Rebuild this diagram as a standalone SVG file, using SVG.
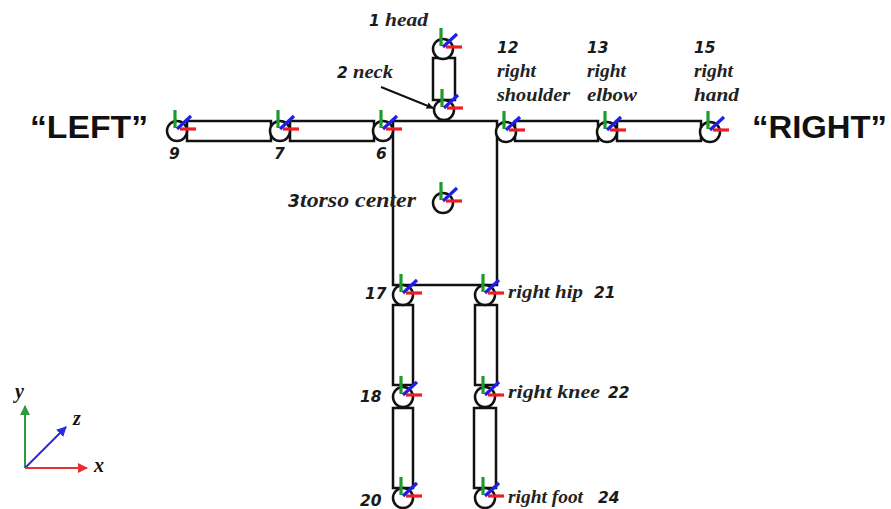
<svg xmlns="http://www.w3.org/2000/svg" xmlns:xlink="http://www.w3.org/1999/xlink" width="891" height="509" viewBox="0 0 891 509">
<style>
.limb{fill:#fff;stroke:#111;stroke-width:2.5}
.jc{fill:#fff;stroke:#111;stroke-width:2.5}
.g{stroke:#1f9a2e;stroke-width:3.2}
.r{stroke:#ee1c24;stroke-width:3.2}
.b{stroke:#1e1ee6;stroke-width:3.2}
.w{font-family:"Liberation Serif",serif;font-weight:bold;font-style:italic;font-size:19px;fill:#222}
.n{font-family:"DejaVu Sans","Liberation Sans",sans-serif;font-weight:bold;font-style:italic;font-size:15.5px;fill:#1a1a1a}
.big{font-family:"Liberation Sans",Arial,sans-serif;font-weight:bold;font-size:31px;fill:#111}
.ax{font-family:"Liberation Serif",serif;font-weight:bold;font-style:italic;font-size:20px;fill:#111}
</style>
<defs>
<g id="axes">
<line class="g" x1="-2" y1="-3" x2="-2" y2="-21"/>
<line class="r" x1="3" y1="-2" x2="19" y2="-2"/>
<line class="b" x1="0" y1="-2" x2="14" y2="-15"/>
</g>
<marker id="ah" viewBox="0 0 10 10" refX="9" refY="5" markerWidth="7" markerHeight="7" orient="auto" markerUnits="userSpaceOnUse">
<path d="M0,0 L10,5 L0,10 z" fill="#111"/>
</marker>
<marker id="agr" viewBox="0 0 10 10" refX="9" refY="5" markerWidth="10" markerHeight="10" orient="auto" markerUnits="userSpaceOnUse"><path d="M0,0 L10,5 L0,10 z" fill="#2e9a3c"/></marker>
<marker id="abl" viewBox="0 0 10 10" refX="9" refY="5" markerWidth="10" markerHeight="10" orient="auto" markerUnits="userSpaceOnUse"><path d="M0,0 L10,5 L0,10 z" fill="#2a2ae0"/></marker>
<marker id="are" viewBox="0 0 10 10" refX="9" refY="5" markerWidth="10" markerHeight="10" orient="auto" markerUnits="userSpaceOnUse"><path d="M0,0 L10,5 L0,10 z" fill="#e83030"/></marker>
</defs>
<rect width="891" height="509" fill="#fff"/>

<g id="connectors">
<rect class="limb" x="433" y="58" width="22" height="42"/>
<rect class="limb" x="393" y="121" width="104" height="164"/>
<rect class="limb" x="187" y="121" width="84" height="20"/>
<rect class="limb" x="290" y="121" width="84" height="20"/>
<rect class="limb" x="515" y="121" width="83" height="20"/>
<rect class="limb" x="617" y="121" width="84" height="20"/>
<rect class="limb" x="393" y="305" width="20" height="80"/>
<rect class="limb" x="475" y="305" width="22" height="80"/>
<rect class="limb" x="393" y="408" width="20" height="80"/>
<rect class="limb" x="474" y="408" width="22" height="80"/>
<line x1="381" y1="87" x2="433" y2="108" stroke="#111" stroke-width="2" marker-end="url(#ah)"/>
</g>

<g id="j1"><circle class="jc" cx="443" cy="49" r="10"/><use xlink:href="#axes" x="443" y="49"/>
<text x="369" y="26"><tspan class="n">1</tspan><tspan class="w" x="385" textLength="43" lengthAdjust="spacingAndGlyphs">head</tspan></text></g>
<g id="j2"><circle class="jc" cx="444" cy="110" r="10"/><use xlink:href="#axes" x="444" y="110"/>
<text x="337" y="78"><tspan class="n">2</tspan><tspan class="w" x="353" textLength="40" lengthAdjust="spacingAndGlyphs">neck</tspan></text></g>
<g id="j3"><circle class="jc" cx="443" cy="203" r="10"/><use xlink:href="#axes" x="443" y="203"/>
<text x="288" y="207"><tspan class="n" style="font-size:17px">3</tspan><tspan class="w" x="300" style="font-size:21px" textLength="116" lengthAdjust="spacingAndGlyphs">torso center</tspan></text></g>
<g id="j6"><circle class="jc" cx="383" cy="131" r="10"/><use xlink:href="#axes" x="383" y="131"/>
<text class="n" x="376" y="159">6</text></g>
<g id="j7"><circle class="jc" cx="280" cy="131" r="10"/><use xlink:href="#axes" x="280" y="131"/>
<text class="n" x="274" y="159">7</text></g>
<g id="j9"><circle class="jc" cx="177" cy="131" r="10"/><use xlink:href="#axes" x="177" y="131"/>
<text class="n" x="169" y="159">9</text></g>
<g id="j12"><circle class="jc" cx="506" cy="132" r="10"/><use xlink:href="#axes" x="506" y="132"/>
<text class="n" x="497" y="53">12</text><text class="w" x="497" y="77" textLength="39" lengthAdjust="spacingAndGlyphs">right</text><text class="w" x="497" y="101" textLength="73" lengthAdjust="spacingAndGlyphs">shoulder</text></g>
<g id="j13"><circle class="jc" cx="607" cy="132" r="10"/><use xlink:href="#axes" x="607" y="132"/>
<text class="n" x="587" y="53">13</text><text class="w" x="587" y="77" textLength="39" lengthAdjust="spacingAndGlyphs">right</text><text class="w" x="587" y="101" textLength="50" lengthAdjust="spacingAndGlyphs">elbow</text></g>
<g id="j15"><circle class="jc" cx="710" cy="132" r="10"/><use xlink:href="#axes" x="710" y="132"/>
<text class="n" x="694" y="53">15</text><text class="w" x="694" y="77" textLength="39" lengthAdjust="spacingAndGlyphs">right</text><text class="w" x="694" y="101" textLength="45" lengthAdjust="spacingAndGlyphs">hand</text></g>
<g id="j17"><circle class="jc" cx="403" cy="295" r="10"/><use xlink:href="#axes" x="403" y="295"/>
<text class="n" x="365" y="299">17</text></g>
<g id="j21"><circle class="jc" cx="485" cy="295" r="10"/><use xlink:href="#axes" x="485" y="295"/>
<text class="w" x="508" y="298" textLength="75" lengthAdjust="spacingAndGlyphs">right hip</text><text class="n" x="594" y="298">21</text></g>
<g id="j18"><circle class="jc" cx="403" cy="397" r="10"/><use xlink:href="#axes" x="403" y="397"/>
<text class="n" x="360" y="402">18</text></g>
<g id="j22"><circle class="jc" cx="485" cy="397" r="10"/><use xlink:href="#axes" x="485" y="397"/>
<text class="w" x="508" y="398" textLength="92" lengthAdjust="spacingAndGlyphs">right knee</text><text class="n" x="608" y="398">22</text></g>
<g id="j20"><circle class="jc" cx="403" cy="498" r="10"/><use xlink:href="#axes" x="403" y="498"/>
<text class="n" x="360" y="506">20</text></g>
<g id="j24"><circle class="jc" cx="485" cy="498" r="10"/><use xlink:href="#axes" x="485" y="498"/>
<text class="w" x="508" y="503" textLength="75" lengthAdjust="spacingAndGlyphs">right foot</text><text class="n" x="598" y="503">24</text></g>

<g id="side-labels">
<text class="big" x="30" y="138" textLength="118" lengthAdjust="spacingAndGlyphs">“LEFT”</text>
<text class="big" x="752" y="138" textLength="135" lengthAdjust="spacingAndGlyphs">“RIGHT”</text>
</g>

<g id="legend">
<line x1="25" y1="468" x2="25" y2="406" stroke="#2e9a3c" stroke-width="2" marker-end="url(#agr)"/>
<line x1="25" y1="468" x2="66" y2="427" stroke="#2a2ae0" stroke-width="2" marker-end="url(#abl)"/>
<line x1="25" y1="468" x2="87" y2="468" stroke="#e83030" stroke-width="2" marker-end="url(#are)"/>
<text class="ax" x="15" y="398">y</text>
<text class="ax" x="73" y="425">z</text>
<text class="ax" x="94" y="472">x</text>
</g>
</svg>
